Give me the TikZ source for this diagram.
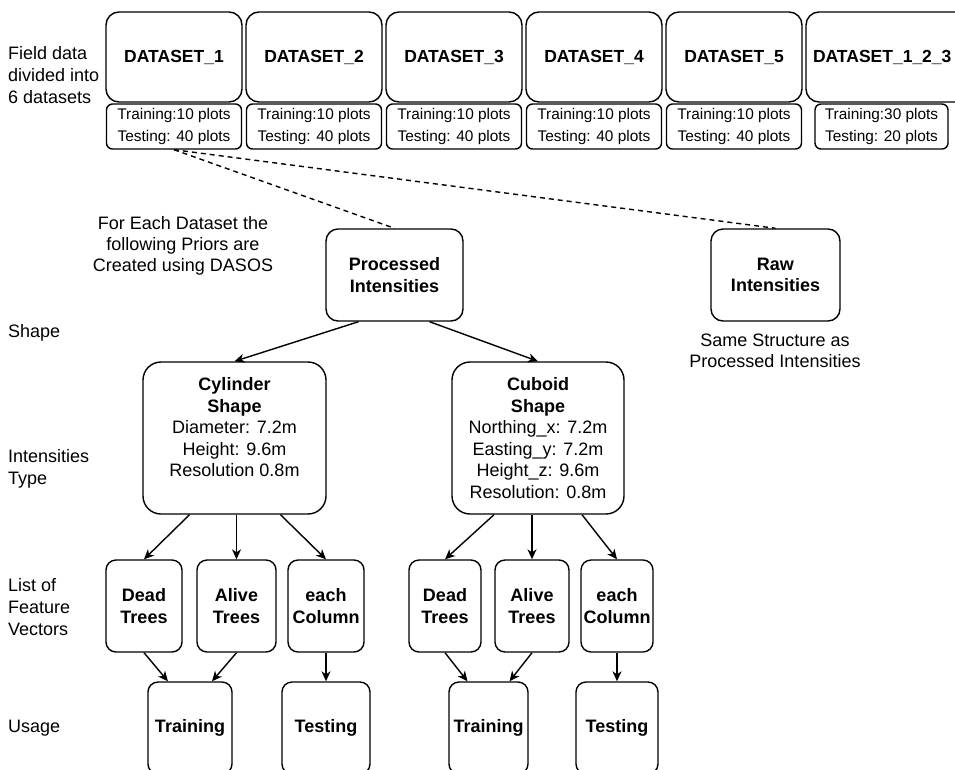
\documentclass[tikz,border=0pt]{standalone}
\usepackage{fontspec}
\setmainfont{Liberation Sans}
\usetikzlibrary{arrows.meta}

\begin{document}
\begin{tikzpicture}[x=1pt,y=-1pt,
    box/.style={shape=rectangle,draw,line width=1.4pt,align=center,inner sep=0pt},
    dsbox/.style={box,rounded corners=13pt,minimum width=136pt,minimum height=90pt,font=\fontsize{17.5}{21}\selectfont\bfseries},
    plotbox/.style={box,rounded corners=6pt,minimum width=135pt,minimum height=45pt,font=\fontsize{15.4}{21.5}\selectfont},
    midbox/.style={box,rounded corners=12pt,minimum height=92pt,font=\fontsize{18}{21.7}\selectfont},
    shapebox/.style={box,rounded corners=18pt,minimum height=152pt,font=\fontsize{18}{21.5}\selectfont},
    smallbox/.style={box,rounded corners=10pt,minimum height=92pt,font=\fontsize{18}{21.5}\selectfont\bfseries},
    note/.style={align=center,inner sep=0pt,font=\fontsize{18}{21.3}\selectfont},
    rowlabel/.style={anchor=west,align=left,inner sep=0pt,font=\fontsize{18}{21.7}\selectfont},
    dashline/.style={line width=1.4pt,dash pattern=on 5pt off 4pt},
    arr/.style={line width=1.4pt,-{Stealth[length=10pt,width=9pt,inset=3pt]}}]
    \useasboundingbox (0,0) rectangle (955,769);
    \clip (0,0) rectangle (955,769);

    % row labels
    \node[rowlabel] (lfield) at (8,75) {Field data\\divided into\\6 datasets};
    \node[rowlabel] (lshape) at (8,333) {Shape};
    \node[rowlabel] (ltype) at (8,469) {Intensities\\Type};
    \node[rowlabel] (lvec) at (8,607) {List of\\Feature\\Vectors};
    \node[rowlabel] (lusage) at (8,728) {Usage};

    % datasets
    \node[dsbox] (d1) at (174,57) {DATASET\_1};
    \node[dsbox] (d2) at (314,57) {DATASET\_2};
    \node[dsbox] (d3) at (454,57) {DATASET\_3};
    \node[dsbox] (d4) at (594,57) {DATASET\_4};
    \node[dsbox] (d5) at (734,57) {DATASET\_5};
    \node[dsbox,minimum width=0pt,text width=176pt,inner xsep=7pt,align=left] (d6) at (901,57) {DATASET\_1\_2\_3};
    \node[plotbox] (p1) at (174,126.5) {Training:10 plots\\Testing: 40 plots};
    \node[plotbox] (p2) at (314,126.5) {Training:10 plots\\Testing: 40 plots};
    \node[plotbox] (p3) at (454,126.5) {Training:10 plots\\Testing: 40 plots};
    \node[plotbox] (p4) at (594,126.5) {Training:10 plots\\Testing: 40 plots};
    \node[plotbox] (p5) at (734,126.5) {Training:10 plots\\Testing: 40 plots};
    \node[plotbox,minimum width=133pt] (p6) at (881.5,126.5) {Training:30 plots\\Testing: 20 plots};

    % priors
    \node[note] (foreach) at (183,246) {For Each Dataset the\\following Priors are\\Created using DASOS};
    \node[midbox,minimum width=137pt] (proc) at (394.5,275) {\textbf{Processed}\\\textbf{Intensities}};
    \node[midbox,minimum width=129pt] (raw) at (775.5,275) {\textbf{Raw}\\\textbf{Intensities}};
    \node[note] (same) at (775,351) {Same Structure as\\Processed Intensities};
    \draw[dashline] (p1.south) -- (proc.north);
    \draw[dashline] (p1.south) -- (raw.north);

    % shapes
    \node[shapebox,minimum width=183pt] (cyl) at (234.5,438) {\textbf{Cylinder}\\\textbf{Shape}\\Diameter: 7.2m\\Height: 9.6m\\Resolution 0.8m\\\phantom{X}};
    \node[shapebox,minimum width=172pt] (cub) at (538,438) {\textbf{Cuboid}\\\textbf{Shape}\\Northing\_x: 7.2m\\Easting\_y: 7.2m\\Height\_z: 9.6m\\Resolution: 0.8m};
    \draw[arr] ([xshift=-36pt]proc.south) -- (cyl.north);
    \draw[arr] ([xshift=35pt]proc.south) -- (cub.north);

    % feature vectors
    \node[smallbox,minimum width=76pt] (dead1) at (144,606) {Dead\\Trees};
    \node[smallbox,minimum width=79pt] (alive1) at (236.5,606) {Alive\\Trees};
    \node[smallbox,minimum width=76pt] (col1) at (326,606) {each\\Column};
    \node[smallbox,minimum width=72pt] (dead2) at (445,606) {Dead\\Trees};
    \node[smallbox,minimum width=74pt] (alive2) at (532,606) {Alive\\Trees};
    \node[smallbox,minimum width=72pt] (col2) at (617,606) {each\\Column};
    \draw[arr] ([xshift=-45pt]cyl.south) -- (dead1.north);
    \draw[arr] (alive1.north |- cyl.south) -- (alive1.north);
    \draw[arr] ([xshift=46pt]cyl.south) -- (col1.north);
    \draw[arr] ([xshift=-44pt]cub.south) -- (dead2.north);
    \draw[arr] (alive2.north |- cub.south) -- (alive2.north);
    \draw[arr] ([xshift=44pt]cub.south) -- (col2.north);

    % usage
    \node[smallbox,minimum width=84pt] (train1) at (190,728) {Training};
    \node[smallbox,minimum width=88pt] (test1) at (326,728) {Testing};
    \node[smallbox,minimum width=79pt] (train2) at (488.5,728) {Training};
    \node[smallbox,minimum width=82pt] (test2) at (617,728) {Testing};
    \draw[arr] (dead1.south) -- ([xshift=-22pt]train1.north);
    \draw[arr] (alive1.south) -- ([xshift=22pt]train1.north);
    \draw[arr] (col1.south) -- (test1.north);
    \draw[arr] (dead2.south) -- ([xshift=-21pt]train2.north);
    \draw[arr] (alive2.south) -- ([xshift=21pt]train2.north);
    \draw[arr] (col2.south) -- (test2.north);
\end{tikzpicture}
\end{document}
